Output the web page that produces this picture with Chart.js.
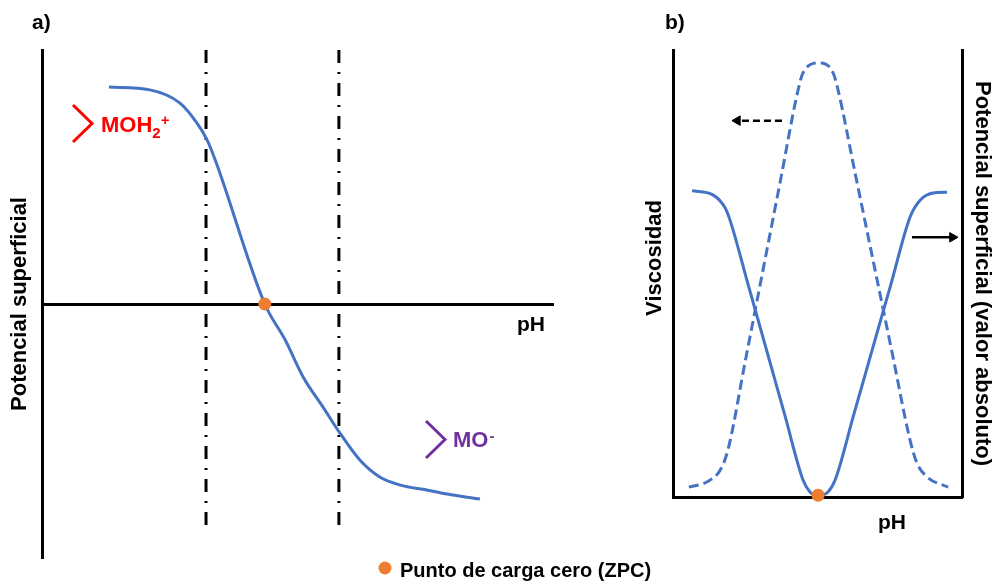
<!DOCTYPE html>
<html>
<head>
<meta charset="utf-8">
<script src="https://cdn.jsdelivr.net/npm/chart.js@4.4.1/dist/chart.umd.min.js"></script>
<style>
  body { margin: 0; background: #fff; width: 994px; height: 583px; overflow: hidden; position: relative; }
  #chartA { position: absolute; left: 0; top: 0; }
  #chartB { position: absolute; left: 620px; top: 0; }
</style>
</head>
<body>
<canvas id="chartA" width="660" height="583"></canvas>
<canvas id="chartB" width="374" height="583"></canvas>
<script>
'use strict';

// a) potencial superficial frente al pH
let phA = [13.1, 21.1, 27.0, 30.3, 32.3, 33.9, 43.6, 47.6, 51.1, 55.0, 58.3, 62.2, 66.1, 70.1, 75.3, 79.3, 85.7];
let potentialA = [85.4, 84.3, 79.1, 71.3, 64.6, 56.7, 0, -14.2, -28.7, -40.6, -50.8, -61.4, -68.1, -71.3, -73.2, -74.8, -76.8];
let zoneLimitsPh = [32.1, 58.1];
let zoneLimitsY = [100, -88.2];
let zpcPhA = 43.6;

// b) viscosidad y potencial (valor absoluto) frente al pH
let phVisc = [5.5, 11.8, 16.3, 19.0, 25.0, 31.0, 37.0, 43.3, 45.0, 50.5, 55.4, 57.1, 63.0, 69.5, 76.0, 82.0, 84.4, 87.9, 95.2];
let viscosity = [2.2, 3.4, 6.0, 10.5, 30.4, 50.3, 70.2, 91.1, 94.9, 97.1, 94.9, 91.1, 72.5, 52.1, 31.7, 12.8, 7.6, 4.5, 2.2];
let phPot = [6.6, 13.8, 18.0, 19.7, 26.0, 32.4, 38.7, 45.0, 47.4, 50.2, 53.6, 56.1, 62.5, 69.0, 75.5, 82.0, 85.5, 90.0, 94.8];
let potentialAbs = [68.5, 67.6, 64.7, 62.0, 47.5, 32.8, 18.3, 3.8, 1.1, 0.2, 1.1, 3.8, 18.3, 33.1, 47.8, 62.6, 66.4, 68.0, 68.2];
let zpcPhB = 50.2;
let zpcYB = 0.4;
let arrowViscX = [37.7, 22.3];
let arrowViscY = [84.2, 84.2];
let arrowPotX = [82.7, 96.7];
let arrowPotY = [58.1, 58.1];

let zpcLabel = 'Punto de carga cero (ZPC)';

const BLUE = '#4472C4';
const ORANGE = '#ED7D31';
const FONT = '"Liberation Sans", Arial, sans-serif';

Chart.defaults.font.family = FONT;
Chart.defaults.color = '#000';

function pairs(xs, ys) {
    return xs.map((x, i) => ({x: x, y: ys[i]}));
}

function hiddenGrid() {
    return {display: false, drawTicks: false};
}

function bracket(ctx, x, top, bottom, color) {
    ctx.save();
    ctx.strokeStyle = color;
    ctx.lineWidth = 3;
    ctx.beginPath();
    ctx.moveTo(x, top);
    ctx.lineTo(x + 19, (top + bottom) / 2);
    ctx.lineTo(x, bottom);
    ctx.stroke();
    ctx.restore();
}

const textA = {
    id: 'textA',
    afterDraw(chart) {
        const ctx = chart.ctx;
        ctx.save();
        ctx.textBaseline = 'alphabetic';
        ctx.textAlign = 'left';
        ctx.fillStyle = '#000';
        ctx.font = 'bold 21px ' + FONT;
        ctx.fillText('a)', 32, 29);
        ctx.fillText('pH', 517, 331);

        // MOH2+
        ctx.fillStyle = '#FF0000';
        ctx.font = 'bold 22px ' + FONT;
        ctx.fillText('MOH', 101, 132);
        let w = ctx.measureText('MOH').width;
        ctx.font = 'bold 15px ' + FONT;
        ctx.fillText('2', 101 + w, 138);
        let w2 = ctx.measureText('2').width;
        ctx.fillText('+', 101 + w + w2, 125);
        bracket(ctx, 73, 105, 142, '#FF0000');

        // MO-
        ctx.fillStyle = '#7030A0';
        ctx.font = 'bold 22px ' + FONT;
        ctx.fillText('MO', 453, 447);
        w = ctx.measureText('MO').width;
        ctx.font = 'bold 15px ' + FONT;
        ctx.fillText('-', 453 + w + 1, 441);
        bracket(ctx, 426, 421, 458, '#7030A0');

        // leyenda
        const ds = chart.data.datasets[0];
        ctx.fillStyle = ds.pointBackgroundColor;
        ctx.beginPath();
        ctx.arc(385, 568, 6.5, 0, Math.PI * 2);
        ctx.fill();
        ctx.fillStyle = '#000';
        ctx.font = 'bold 20px ' + FONT;
        ctx.fillText(ds.label, 400, 577);
        ctx.restore();
    }
};

const textB = {
    id: 'textB',
    afterDraw(chart) {
        const ctx = chart.ctx;
        ctx.save();
        ctx.fillStyle = '#000';
        ctx.textAlign = 'left';
        ctx.textBaseline = 'alphabetic';
        ctx.font = 'bold 21px ' + FONT;
        ctx.fillText('b)', 45, 29);
        ctx.fillText('pH', 258, 529);
        ctx.translate(35, 258);
        ctx.rotate(-Math.PI / 2);
        ctx.textAlign = 'center';
        ctx.textBaseline = 'middle';
        ctx.font = 'bold 22px ' + FONT;
        ctx.fillText('Viscosidad', 0, 0);
        ctx.restore();
    }
};

let zoneDatasets = zoneLimitsPh.map(x => ({
    data: pairs([x, x], zoneLimitsY),
    borderColor: '#000',
    borderWidth: 3,
    borderDash: [13, 9, 2, 9],
    pointRadius: 0,
    tension: 0
}));

let chartA = new Chart(document.getElementById('chartA'), {
    type: 'line',
    data: {
        datasets: [
            {
                label: zpcLabel,
                data: [{x: zpcPhA, y: 0}],
                pointRadius: 6.5,
                pointBackgroundColor: ORANGE,
                pointBorderColor: ORANGE,
                pointBorderWidth: 0,
                showLine: false,
                clip: false
            },
            {
                label: 'Potencial superficial',
                data: pairs(phA, potentialA),
                borderColor: BLUE,
                borderWidth: 3,
                pointRadius: 0,
                cubicInterpolationMode: 'monotone',
                tension: 0.4
            },
            ...zoneDatasets
        ]
    },
    options: {
        responsive: false,
        animation: false,
        events: [],
        layout: {padding: {left: 9, right: 107, top: 50, bottom: 25}},
        plugins: {legend: {display: false}, tooltip: {enabled: false}},
        scales: {
            x: {
                type: 'linear',
                min: 0,
                max: 100,
                position: {y: 0},
                grid: hiddenGrid(),
                ticks: {display: false},
                border: {display: true, color: '#000', width: 3}
            },
            y: {
                min: -100,
                max: 100,
                grid: hiddenGrid(),
                ticks: {display: false},
                border: {display: true, color: '#000', width: 3},
                title: {
                    display: true,
                    text: 'Potencial superficial',
                    font: {size: 22, weight: 'bold', lineHeight: 1},
                    padding: {top: 0, bottom: 11}
                }
            }
        }
    },
    plugins: [textA]
});

let chartB = new Chart(document.getElementById('chartB'), {
    type: 'line',
    data: {
        datasets: [
            {
                label: zpcLabel,
                data: [{x: zpcPhB, y: zpcYB}],
                pointRadius: 6.5,
                pointBackgroundColor: ORANGE,
                pointBorderColor: ORANGE,
                pointBorderWidth: 0,
                showLine: false,
                clip: false
            },
            {
                label: 'Potencial superficial (valor absoluto)',
                data: pairs(phPot, potentialAbs),
                borderColor: BLUE,
                borderWidth: 3,
                pointRadius: 0,
                cubicInterpolationMode: 'monotone',
                tension: 0.4
            },
            {
                label: 'Viscosidad',
                data: pairs(phVisc, viscosity),
                borderColor: BLUE,
                borderWidth: 3,
                borderDash: [10, 5],
                pointRadius: 0,
                cubicInterpolationMode: 'monotone',
                tension: 0.4
            },
            {
                label: 'eje viscosidad',
                data: pairs(arrowViscX, arrowViscY),
                borderColor: '#000',
                borderWidth: 2.5,
                borderDash: [7, 4],
                pointStyle: 'triangle',
                pointRotation: 270,
                pointRadius: [0, 5.5],
                pointBackgroundColor: '#000',
                pointBorderColor: '#000',
                pointBorderWidth: 1
            },
            {
                label: 'eje potencial',
                data: pairs(arrowPotX, arrowPotY),
                borderColor: '#000',
                borderWidth: 2.5,
                pointStyle: 'triangle',
                pointRotation: 90,
                pointRadius: [0, 5.5],
                pointBackgroundColor: '#000',
                pointBorderColor: '#000',
                pointBorderWidth: 1,
                clip: false
            }
        ]
    },
    options: {
        responsive: false,
        animation: false,
        events: [],
        layout: {padding: {left: 53, right: 1, top: 50, bottom: 86}},
        plugins: {legend: {display: false}, tooltip: {enabled: false}},
        scales: {
            x: {
                type: 'linear',
                min: 0,
                max: 100,
                grid: hiddenGrid(),
                ticks: {display: false},
                border: {display: true, color: '#000', width: 3}
            },
            y: {
                min: 0,
                max: 100,
                grid: hiddenGrid(),
                ticks: {display: false},
                border: {display: true, color: '#000', width: 3}
            },
            y2: {
                display: true,
                position: 'right',
                min: 0,
                max: 100,
                grid: hiddenGrid(),
                ticks: {display: false},
                border: {display: true, color: '#000', width: 3},
                title: {
                    display: true,
                    text: 'Potencial superficial (valor absoluto)',
                    font: {size: 22, weight: 'bold', lineHeight: 1},
                    padding: {top: 0, bottom: 9}
                }
            }
        }
    },
    plugins: [textB]
});
</script>
</body>
</html>
